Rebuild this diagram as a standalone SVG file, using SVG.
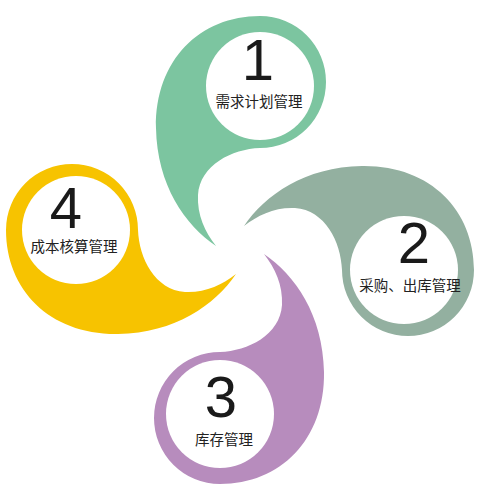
<svg xmlns="http://www.w3.org/2000/svg" width="484" height="500" viewBox="0 0 484 500">
<defs>
<style>
.num{font-family:"Liberation Sans",Arial,sans-serif;font-size:58px;fill:#1a1a1a;text-anchor:middle}
.lbl{font-family:"Noto Sans CJK SC","Noto Sans",sans-serif;font-size:14.5px;fill:#222;text-anchor:middle}
.hole{fill:#fff}
</style>
<path id="drop" d="M 260,16 A 66 66 0 0 1 260,148 C 232,149 200,165 198,195 C 197,215 205,232 216,246 C 185,225 157,185 156,128 C 155,60 200,16 260,16 Z"/>
</defs>
<rect width="484" height="500" fill="#fff"/>
<g id="node1">
<use href="#drop" fill="#7cc5a0"/>
<circle class="hole" cx="260" cy="86" r="54"/>
<text class="num" x="258" y="80">1</text>
<text class="lbl" x="259" y="107">需求计划管理</text>
</g>
<g id="node2">
<use href="#drop" fill="#93b0a0" transform="rotate(90 240 250)"/>
<circle class="hole" cx="404" cy="270" r="54"/>
<text class="num" x="414" y="263">2</text>
<text class="lbl" x="410" y="291">采购、出库管理</text>
</g>
<g id="node3">
<use href="#drop" fill="#b78cbd" transform="rotate(180 240 250)"/>
<circle class="hole" cx="220" cy="414" r="54"/>
<text class="num" x="221" y="417">3</text>
<text class="lbl" x="224" y="445">库存管理</text>
</g>
<g id="node4">
<use href="#drop" fill="#f7c300" transform="rotate(270 240 250)"/>
<circle class="hole" cx="76" cy="230" r="54"/>
<text class="num" x="66" y="228">4</text>
<text class="lbl" x="74" y="252">成本核算管理</text>
</g>
<g id="connectors"/>
</svg>
